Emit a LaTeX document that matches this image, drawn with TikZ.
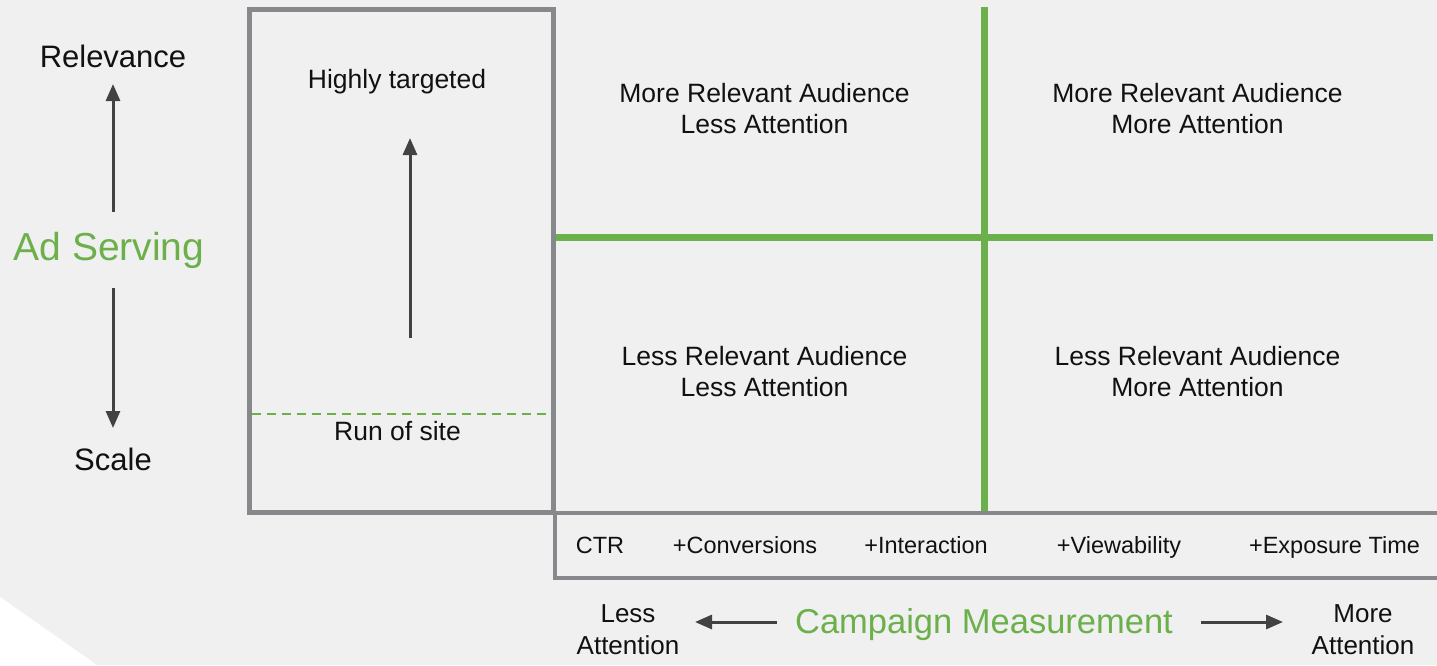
\documentclass[tikz,border=0pt]{standalone}
\usepackage{fontspec}
\setmainfont{Liberation Sans}
\usetikzlibrary{arrows.meta}
\definecolor{bg}{HTML}{F0F0F0}
\definecolor{grn}{HTML}{6CB04C}
\definecolor{boxgray}{HTML}{87888C}
\definecolor{arrgray}{HTML}{414244}
\definecolor{ink}{HTML}{111111}
\begin{document}
\begin{tikzpicture}[x=1pt,y=-1pt,
  txt/.style={font=\fontsize{26.5}{31}\selectfont, text=ink, inner sep=0pt, anchor=base},
  side/.style={font=\fontsize{31}{36}\selectfont, text=ink, inner sep=0pt, anchor=base},
  small/.style={font=\fontsize{23.5}{28}\selectfont, text=ink, inner sep=0pt, anchor=base},
  gtitle/.style={text=grn, inner sep=0pt, anchor=base},
  conn/.style={draw=arrgray, line width=3pt, -{Triangle[length=17pt,width=14pt]}},
  frame/.style={draw=boxgray, line width=5pt},
  gline/.style={draw=grn, line width=7pt}]
\clip (0,0) rectangle (1437,665);
\fill[bg] (0,0) rectangle (1437,665);
\fill[white] (0,597) -- (97,665) -- (0,665) -- cycle;

% green quadrant lines
\draw[gline] (984,7) -- (984,511);
\draw[gline] (553,237) -- (1433,237);

% left box
\draw[draw=grn, line width=2.6pt, dash pattern=on 9pt off 6pt] (251.5,414) -- (553,414);
\draw[frame] (249,9.5) rectangle (553,512.5);

% bottom box
\draw[frame, line width=4.5pt] (1445,513) -- (555,513) -- (555,578) -- (1445,578);

% left axis
\node[side] (rel) at (113,67) {Relevance};
\node[side] (scale) at (113,470) {Scale};
\node[gtitle, font=\fontsize{39}{44}\selectfont] (ads) at (109,260) {Ad Serving};
\coordinate (upS) at (113,212);
\coordinate (upE) at (113,84);
\coordinate (dnS) at (113,288);
\coordinate (dnE) at (113,428);
\draw[conn] (upS) -- (upE);
\draw[conn] (dnS) -- (dnE);

% inside left box
\node[txt] (ht) at (397,88) {Highly targeted};
\node[txt] (ros) at (397.5,440) {Run of site};
\coordinate (inS) at (410,338);
\coordinate (inE) at (410,138);
\draw[conn] (inS) -- (inE);

% quadrants
\node[txt] (q1a) at (764.5,102.3) {More Relevant Audience};
\node[txt] (q1b) at (764.5,133.3) {Less Attention};
\node[txt] (q2a) at (1197.5,102.3) {More Relevant Audience};
\node[txt] (q2b) at (1197.5,133.3) {More Attention};
\node[txt] (q3a) at (764.5,365) {Less Relevant Audience};
\node[txt] (q3b) at (764.5,396.5) {Less Attention};
\node[txt] (q4a) at (1197.5,365) {Less Relevant Audience};
\node[txt] (q4b) at (1197.5,396.5) {More Attention};

% measurement row
\node[small] (ctr) at (600,553) {CTR};
\node[small] (conv) at (745,553) {+Conversions};
\node[small] (inter) at (926,553) {+Interaction};
\node[small] (view) at (1119,553) {+Viewability};
\node[small] (expo) at (1334.5,553) {+Exposure Time};

% bottom axis
\node[txt, font=\fontsize{26}{31}\selectfont] (lessA) at (628,622) {Less};
\node[txt, font=\fontsize{26}{31}\selectfont] (lessB) at (628,654) {Attention};
\node[txt, font=\fontsize{26}{31}\selectfont] (moreA) at (1363,622.5) {More};
\node[txt, font=\fontsize{26}{31}\selectfont] (moreB) at (1363,654) {Attention};
\node[gtitle, font=\fontsize{34.5}{40}\selectfont] (cm) at (984,633) {Campaign Measurement};
\coordinate (lS) at (777,622);
\coordinate (lE) at (695,622);
\coordinate (rS) at (1201,622);
\coordinate (rE) at (1283,622);
\draw[conn] (lS) -- (lE);
\draw[conn] (rS) -- (rE);
\end{tikzpicture}
\end{document}
